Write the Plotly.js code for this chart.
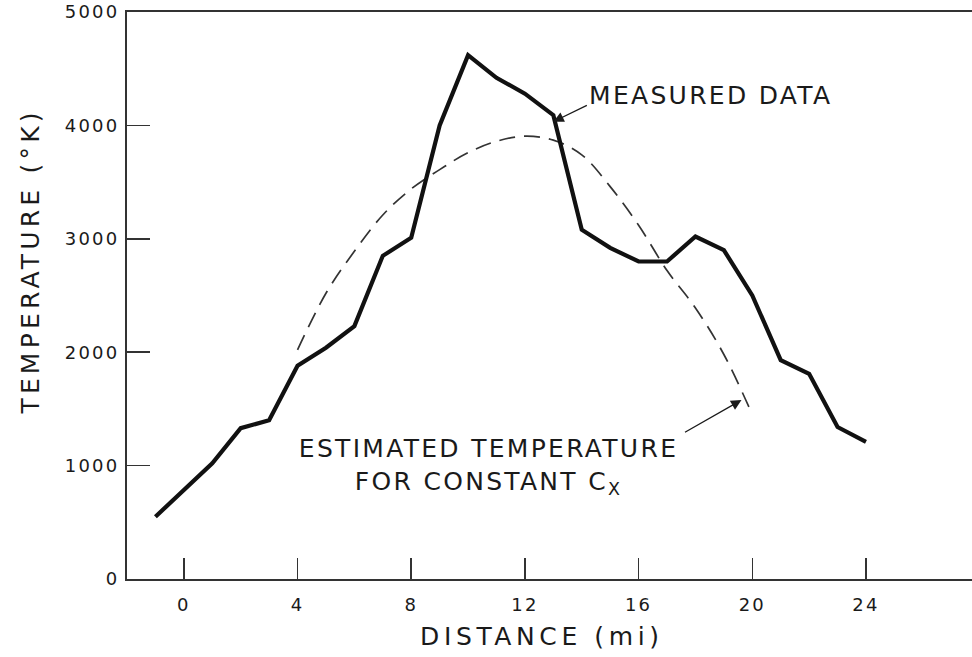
<!DOCTYPE html>
<html>
<head>
<meta charset="utf-8">
<script src="https://cdn.plot.ly/plotly-3.0.1.min.js"></script>
<style>
html,body{margin:0;padding:0;background:#fff;}
#chart{width:972px;height:657px;}
#chart .xtick text, #chart .ytick text{letter-spacing:2.2px;}
#chart .annotation-text{letter-spacing:2.3px;}
#chart .annotation[data-index="0"] .annotation-text{letter-spacing:4.6px;}
#chart .annotation[data-index="1"] .annotation-text{letter-spacing:4.2px;}
</style>
</head>
<body>
<div id="chart"></div>
<script>
// Measured data (distance in mi, temperature in °K)
const measuredX = [-1, 0, 1, 2, 3, 4, 5, 6, 7, 8, 9, 10, 11, 12, 13, 14, 15, 16, 17, 18, 19, 20, 21, 22, 23, 24];
const measuredT = [549, 790, 1020, 1330, 1400, 1880, 2040, 2230, 2850, 3010, 4000, 4620, 4420, 4280, 4090, 3080, 2920, 2800, 2800, 3020, 2900, 2500, 1930, 1810, 1340, 1210];

// Estimated temperature for constant Cx
const estimatedX = [4, 5, 6, 7, 8, 9, 10, 11, 12, 13, 14, 15, 16, 17, 18, 19, 20];
const estimatedT = [2020, 2520, 2890, 3210, 3440, 3610, 3760, 3860, 3905, 3870, 3740, 3460, 3120, 2720, 2390, 1980, 1450];

// Axis ticks
const xTicks = [0, 4, 8, 12, 16, 20, 24];
const yTicks = [0, 1000, 2000, 3000, 4000, 5000];

const FONT = 'DejaVu Sans, Liberation Sans, sans-serif';
const INK = '#1a1a1a';

const traces = [
  {
    x: estimatedX, y: estimatedT, mode: 'lines', type: 'scatter',
    line: {color: '#333', width: 1.7, dash: '16px,9px', shape: 'spline', smoothing: 1},
    hoverinfo: 'skip'
  },
  {
    x: measuredX, y: measuredT, mode: 'lines', type: 'scatter',
    line: {color: '#111', width: 4.2, shape: 'linear'},
    hoverinfo: 'skip'
  }
];

const layout = {
  width: 972, height: 657,
  margin: {l: 127, r: 0, t: 12, b: 78, pad: 0},
  paper_bgcolor: '#fff', plot_bgcolor: '#fff',
  showlegend: false,
  font: {family: FONT, color: INK},
  xaxis: {
    range: [-2, 27.73], tickvals: xTicks, ticktext: xTicks.map(String),
    ticks: 'inside', ticklen: 21, tickwidth: 1.5, tickcolor: '#333',
    showline: true, linecolor: '#333', linewidth: 2, mirror: true,
    showgrid: false, zeroline: false,
    tickfont: {family: FONT, size: 18, color: INK},
    ticklabelstandoff: 8
  },
  yaxis: {
    range: [0, 5000], tickvals: yTicks, ticktext: yTicks.map(String),
    ticks: 'inside', ticklen: 23, tickwidth: 1.5, tickcolor: '#333',
    showline: true, linecolor: '#333', linewidth: 2,
    showgrid: false, zeroline: false,
    tickfont: {family: FONT, size: 18, color: INK},
    ticklabelstandoff: 2
  },
  annotations: [
    {xref: 'paper', yref: 'paper', x: (542 - 127) / 845, y: -(637 - 579) / 567,
     text: 'DISTANCE (mi)', showarrow: false, xanchor: 'center', yanchor: 'middle',
     font: {family: FONT, size: 25, color: INK}},
    {xref: 'paper', yref: 'paper', x: -(127 - 30) / 845, y: (579 - 262) / 567,
     text: 'TEMPERATURE (°K)', textangle: -90, showarrow: false, xanchor: 'center', yanchor: 'middle',
     font: {family: FONT, size: 25, color: INK}},
    {xref: 'x', yref: 'y', x: 14.71, y: 4268,
     text: 'MEASURED DATA', showarrow: false, xanchor: 'left', yanchor: 'middle',
     font: {family: FONT, size: 25, color: INK}},
    {xref: 'x', yref: 'y', x: 13.0, y: 4033, text: '', showarrow: true,
     ax: 35, ay: -17, arrowhead: 2, arrowsize: 1.6, arrowwidth: 1.3, arrowcolor: INK, standoff: 0},
    {xref: 'x', yref: 'y', x: 10.72, y: 990,
     text: 'ESTIMATED TEMPERATURE<br>FOR CONSTANT C<sub>X</sub>', showarrow: false,
     xanchor: 'center', yanchor: 'middle', align: 'center',
     font: {family: FONT, size: 25, color: INK}},
    {xref: 'x', yref: 'y', x: 19.62, y: 1578, text: '', showarrow: true,
     ax: -58, ay: 33, arrowhead: 2, arrowsize: 1.6, arrowwidth: 1.3, arrowcolor: INK, standoff: 0}
  ]
};

Plotly.newPlot('chart', traces, layout, {staticPlot: true, displayModeBar: false});
</script>
</body>
</html>
